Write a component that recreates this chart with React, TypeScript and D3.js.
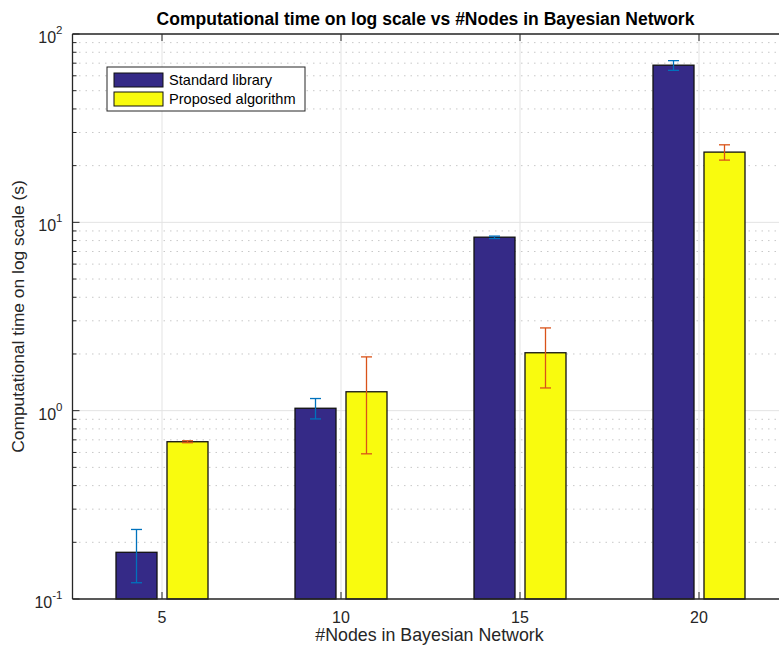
import React from "react";
import * as d3 from "d3";

const categories = [5, 10, 15, 20];
const seriesNames = ["Standard library", "Proposed algorithm"];
const standardValues = [0.177, 1.03, 8.34, 68.3];
const standardLow = [0.122, 0.904, 8.2, 64.1];
const standardHigh = [0.234, 1.16, 8.45, 72.2];
const proposedValues = [0.684, 1.26, 2.03, 23.6];
const proposedLow = [0.676, 0.59, 1.32, 21.4];
const proposedHigh = [0.692, 1.93, 2.75, 25.8];
const yTickValues = [0.1, 1, 10, 100];
const yTickExponents = ["-1", "0", "1", "2"];

const W = 779;
const H = 650;
const margin = { left: 72.5, top: 34, right: 788.5, bottom: 599 };
const FONT = "'Liberation Sans', Arial, Helvetica, sans-serif";

export default function App() {
  const x = d3.scaleLinear().domain([2.5, 22.5]).range([margin.left, margin.right]);
  const y = d3.scaleLog().domain([0.1, 100]).range([margin.bottom, margin.top]);
  const barW = 41;
  const offset = 25.5;
  const colors = ["#352a87", "#f9fb0e"];
  const errColors = ["#0072bd", "#d95319"];

  const minorTicks: number[] = [];
  for (let e = -1; e < 2; e++) {
    for (let m = 2; m <= 9; m++) minorTicks.push(m * Math.pow(10, e));
  }

  const series = [
    { vals: standardValues, lo: standardLow, hi: standardHigh, dx: -offset },
    { vals: proposedValues, lo: proposedLow, hi: proposedHigh, dx: offset },
  ];

  const cx = (margin.left + margin.right) / 2;
  const cy = (margin.top + margin.bottom) / 2;

  return (
    <svg width={W} height={H} style={{ display: "block", position: "absolute", left: 0, top: 0 }} fontFamily={FONT}>
      <rect x={0} y={0} width={W} height={H} fill="#fff" />
      {/* grid */}
      {minorTicks.map((t, i) => (
        <line key={"mg" + i} x1={margin.left} x2={margin.right} y1={y(t)} y2={y(t)} stroke="#c8c8c8" strokeWidth={1} strokeDasharray="1.5,5" />
      ))}
      {yTickValues.map((t, i) => (
        <line key={"yg" + i} x1={margin.left} x2={margin.right} y1={y(t)} y2={y(t)} stroke="#e3e3e3" strokeWidth={1} />
      ))}
      {categories.map((c, i) => (
        <line key={"xg" + i} x1={x(c)} x2={x(c)} y1={margin.top} y2={margin.bottom} stroke="#e3e3e3" strokeWidth={1} />
      ))}
      {/* bars */}
      {series.map((s, si) =>
        categories.map((c, i) => (
          <rect key={"b" + si + "-" + i} x={x(c) + s.dx - barW / 2} y={y(s.vals[i])} width={barW} height={margin.bottom - y(s.vals[i])} fill={colors[si]} stroke="#111" strokeWidth={1.3} />
        ))
      )}
      {/* error bars */}
      {series.map((s, si) =>
        categories.map((c, i) => {
          const ex = x(c) + s.dx;
          return (
            <g key={"e" + si + "-" + i} stroke={errColors[si]} strokeWidth={1.3}>
              <line x1={ex} x2={ex} y1={y(s.lo[i])} y2={y(s.hi[i])} />
              <line x1={ex - 5.5} x2={ex + 5.5} y1={y(s.lo[i])} y2={y(s.lo[i])} />
              <line x1={ex - 5.5} x2={ex + 5.5} y1={y(s.hi[i])} y2={y(s.hi[i])} />
            </g>
          );
        })
      )}
      {/* axes box */}
      <line x1={margin.left} x2={margin.right} y1={margin.top} y2={margin.top} stroke="#262626" strokeWidth={1.3} />
      <line x1={margin.left} x2={margin.right} y1={margin.bottom} y2={margin.bottom} stroke="#262626" strokeWidth={1.3} />
      <line x1={margin.left} x2={margin.left} y1={margin.top} y2={margin.bottom} stroke="#262626" strokeWidth={1.3} />
      {/* y ticks */}
      {yTickValues.map((t, i) => (
        <g key={"yt" + i}>
          <line x1={margin.left} x2={margin.left + 7} y1={y(t)} y2={y(t)} stroke="#262626" strokeWidth={1} />
          <text x={margin.left - 10} y={y(t) + 9} textAnchor="end" fontSize={16} fill="#262626">
            10
            <tspan dy={-9} fontSize={11.5}>{yTickExponents[i]}</tspan>
          </text>
        </g>
      ))}
      {minorTicks.map((t, i) => (
        <line key={"ymt" + i} x1={margin.left} x2={margin.left + 4} y1={y(t)} y2={y(t)} stroke="#262626" strokeWidth={1} />
      ))}
      {/* x ticks */}
      {categories.map((c, i) => (
        <g key={"xt" + i}>
          <line x1={x(c)} x2={x(c)} y1={margin.bottom} y2={margin.bottom - 7} stroke="#262626" strokeWidth={1} />
          <line x1={x(c)} x2={x(c)} y1={margin.top} y2={margin.top + 7} stroke="#262626" strokeWidth={1} />
          <text x={x(c)} y={margin.bottom + 24} textAnchor="middle" fontSize={16} fill="#262626">{c}</text>
        </g>
      ))}
      {/* labels */}
      <text x={cx - 5} y={25} textAnchor="middle" fontSize={17.5} fontWeight="bold" fill="#000">
        Computational time on log scale vs #Nodes in Bayesian Network
      </text>
      <text x={cx - 1} y={641} textAnchor="middle" fontSize={17.8} fill="#262626">#Nodes in Bayesian Network</text>
      <text transform={`translate(24,${cy}) rotate(-90)`} textAnchor="middle" fontSize={17.4} fill="#262626">
        Computational time on log scale (s)
      </text>
      {/* legend */}
      <g>
        <rect x={107} y={67} width={198} height={44} fill="#fff" stroke="#262626" strokeWidth={1} />
        {seriesNames.map((n, i) => (
          <g key={"lg" + i}>
            <rect x={114} y={73 + i * 19} width={49} height={14} fill={colors[i]} stroke="#111" strokeWidth={1} />
            <text x={169} y={85 + i * 19} fontSize={14.6} fill="#000">{n}</text>
          </g>
        ))}
      </g>
    </svg>
  );
}
